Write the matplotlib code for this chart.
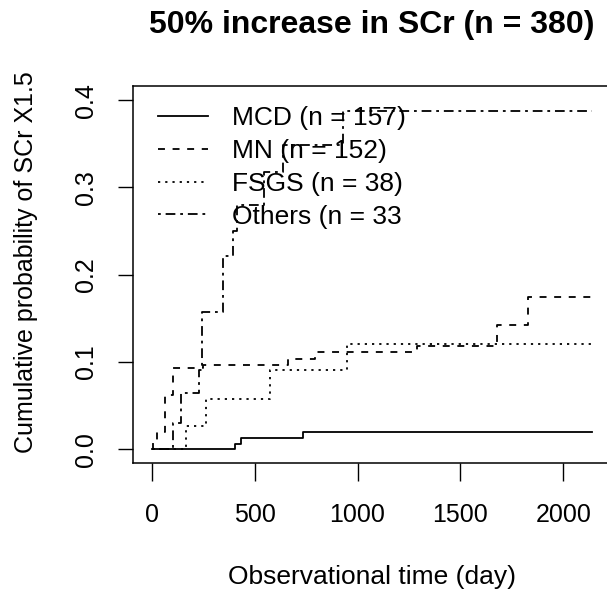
import matplotlib
matplotlib.use("Agg")
import matplotlib.pyplot as plt

plt.rcParams['font.family'] = ['Liberation Sans', 'DejaVu Sans']
plt.rcParams['lines.scale_dashes'] = False

# ---- data ----
title = "50% increase in SCr (n = 380)"
xlabel = "Observational time (day)"
ylabel = "Cumulative probability of SCr X1.5"
xticks = [0, 500, 1000, 1500, 2000]
yticks = [0.0, 0.1, 0.2, 0.3, 0.4]
ytick_labels = ["0.0", "0.1", "0.2", "0.3", "0.4"]

mcd_t = [0, 405, 432, 733, 2138]
mcd_y = [0.0, 0.0064, 0.0128, 0.0200, 0.0200]

mn_t = [0, 8, 27, 65, 105, 250, 664, 794, 1288, 1676, 1827, 2138]
mn_y = [0.0, 0.007, 0.020, 0.062, 0.093, 0.097, 0.103, 0.111, 0.118, 0.142, 0.174, 0.174]

fsgs_t = [0, 167, 264, 575, 950, 2138]
fsgs_y = [0.0, 0.027, 0.058, 0.091, 0.121, 0.121]

oth_t = [0, 105, 140, 230, 243, 345, 397, 413, 547, 640, 931, 2138]
oth_y = [0.0, 0.030, 0.064, 0.091, 0.157, 0.221, 0.250, 0.280, 0.318, 0.349, 0.387, 0.387]

labels = ["MCD (n = 157)", "MN (n = 152)", "FSGS (n = 38)", "Others (n = 33"]

# ---- figure ----
W, H = 607, 591
fig = plt.figure(figsize=(W / 100, H / 100), dpi=100)
ax = fig.add_axes([133 / W, (H - 463) / H, (622.6 - 133) / W, (463 - 86) / H])

lw = 1.3
styles = [
    dict(linestyle='-'),
    dict(linestyle=(0, (5.0, 5.5))),
    dict(linestyle=(0, (1.6, 3.6))),
    dict(linestyle=(0, (2.0, 3.5, 7.0, 3.5))),
]
series = [(mcd_t, mcd_y), (mn_t, mn_y), (fsgs_t, fsgs_y), (oth_t, oth_y)]
for (t, y), st, lab in zip(series, styles, labels):
    ax.step(t, y, where='post', color='black', linewidth=lw, label=lab, **st)

ax.set_xlim(-91, 2288)
ax.set_ylim(-0.0157, 0.4162)
ax.set_xticks(xticks)
ax.set_xticklabels([str(v) for v in xticks])
ax.set_yticks(yticks)
ax.set_yticklabels(ytick_labels, rotation=90, va='center')

fs = 18
ax.tick_params(axis='x', length=13, width=1.0, pad=16, labelsize=fs, direction='out')
ax.tick_params(axis='y', length=11, width=1.0, pad=14.5, labelsize=fs, direction='out')
for s in ax.spines.values():
    s.set_linewidth(1.1)

fig.text(372 / W, 1 - 25 / H, title, ha='center', va='center', fontsize=23, fontweight='bold')
fig.text(372 / W, 1 - 577 / H, xlabel, ha='center', va='center', fontsize=19)
fig.text(26 / W, 1 - 262 / H, ylabel, ha='center', va='center', fontsize=18, rotation=90)

lfs = 19
leg = ax.legend(loc='upper left', bbox_to_anchor=((158 - 133) / 489.6, (463 - 106.5) / 377),
                frameon=False, fontsize=lfs, handlelength=1.9, handletextpad=0.9,
                labelspacing=0.33, borderpad=0, borderaxespad=0)

fig.savefig("out.png", dpi=100)
